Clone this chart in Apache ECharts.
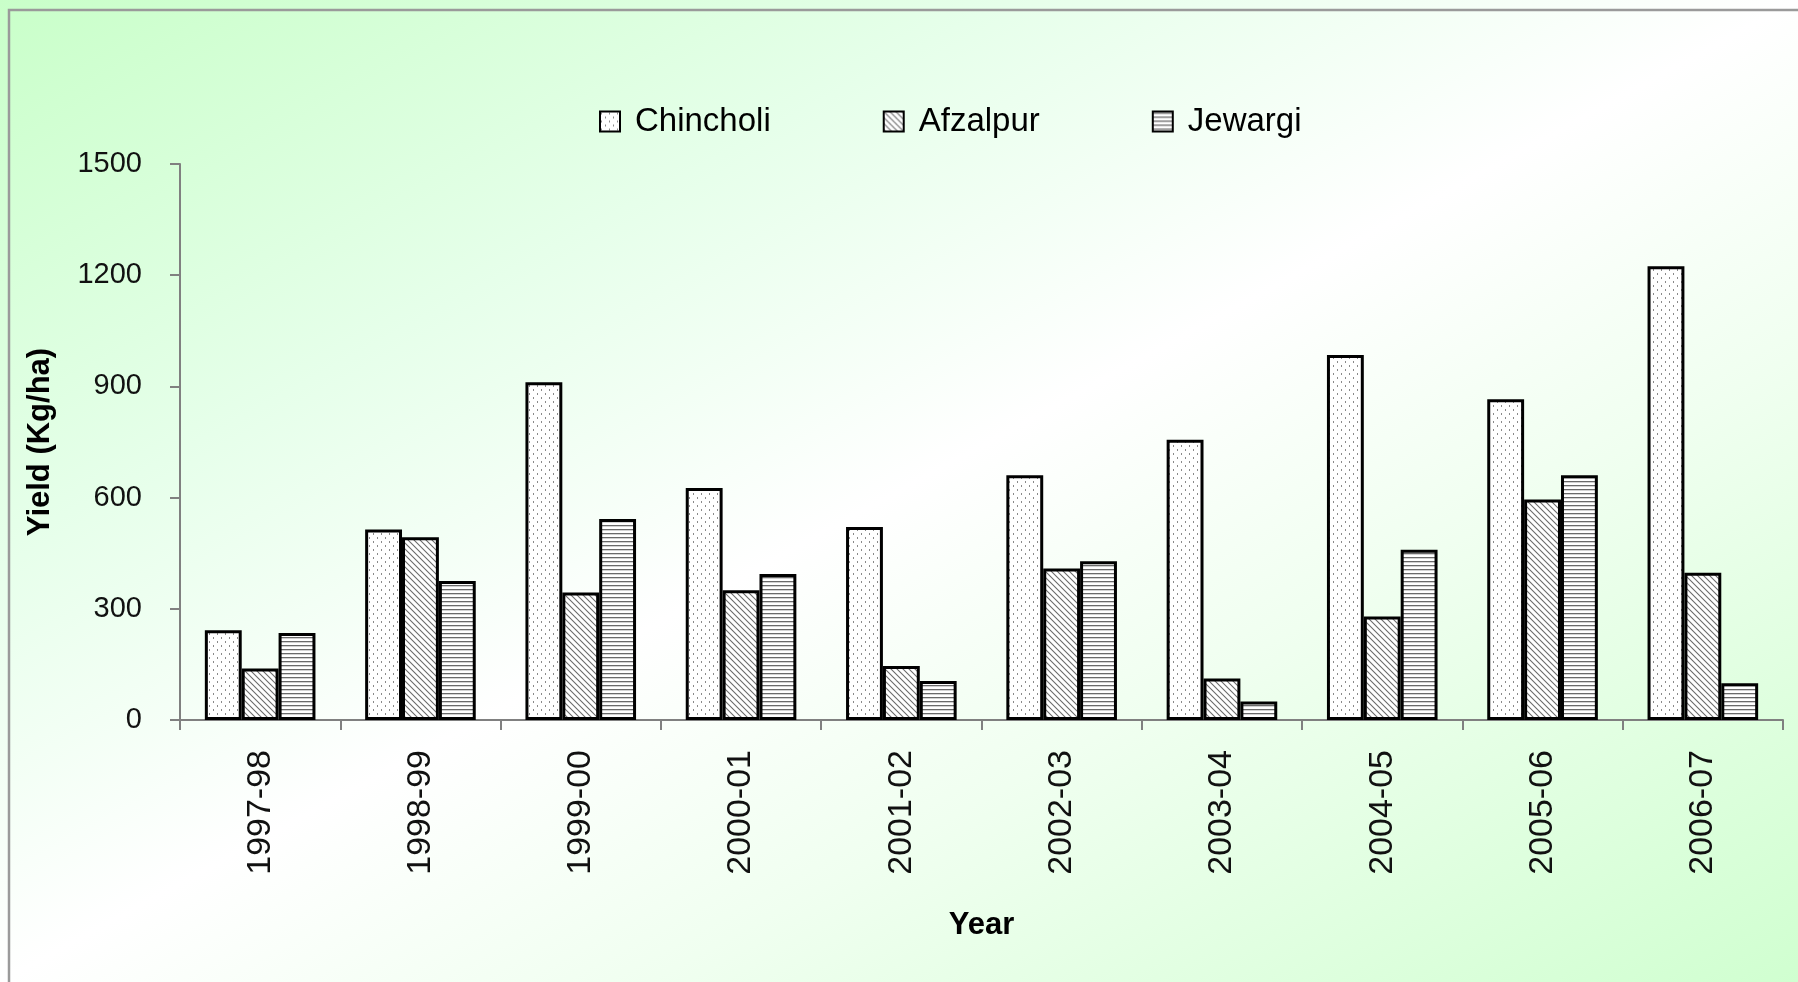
<!DOCTYPE html>
<html>
<head>
<meta charset="utf-8">
<script src="https://cdn.jsdelivr.net/npm/echarts@6/dist/echarts.min.js"></script>
<style>
html,body{margin:0;padding:0;width:1798px;height:982px;overflow:hidden;}
#chart{width:1798px;height:982px;background:linear-gradient(to bottom right,#c9ffc9 0%,#e6ffea 28%,#ffffff 50%,#f0fff0 68%,#d0ffd0 100%);}
</style>
</head>
<body>
<div id="chart"></div>
<script>
var categories = ['1997-98','1998-99','1999-00','2000-01','2001-02','2002-03','2003-04','2004-05','2005-06','2006-07'];
var seriesNames = ['Chincholi','Afzalpur','Jewargi'];
var chincholi = [242, 514, 911, 626, 521, 660, 756, 985, 865, 1224];
var afzalpur  = [139, 493, 344, 350, 146, 409, 112, 279, 595, 397];
var jewargi   = [235, 375, 542, 394, 105, 428, 50, 459, 660, 99];
var yTicks = [0, 300, 600, 900, 1200, 1500];

function makeTile(kind){
  var c = document.createElement('canvas');
  var ctx;
  if (kind === 'dots'){
    c.width = 8; c.height = 8; ctx = c.getContext('2d');
    ctx.fillStyle = '#ffffff'; ctx.fillRect(0,0,8,8);
    ctx.fillStyle = '#8a8a8a';
    ctx.fillRect(1,1,1,2); ctx.fillRect(5,5,1,2);
  } else if (kind === 'diag'){
    c.width = 6; c.height = 6; ctx = c.getContext('2d');
    ctx.fillStyle = '#ffffff'; ctx.fillRect(0,0,6,6);
    ctx.strokeStyle = '#6a6a6a'; ctx.lineWidth = 1.1;
    for (var o = -6; o <= 6; o += 6){
      ctx.beginPath(); ctx.moveTo(o-1, -1); ctx.lineTo(o+7, 7); ctx.stroke();
    }
  } else {
    c.width = 4; c.height = 4; ctx = c.getContext('2d');
    ctx.fillStyle = '#ffffff'; ctx.fillRect(0,0,4,4);
    ctx.fillStyle = '#6a6a6a'; ctx.fillRect(0,1,4,1.3);
  }
  return {image: c, repeat: 'repeat'};
}
var fills = [makeTile('dots'), makeTile('diag'), makeTile('horiz')];
var values = [chincholi, afzalpur, jewargi];

var chart = echarts.init(document.getElementById('chart'), null, {renderer:'canvas'});
var regular = '"Liberation Sans",Arial,sans-serif';

var option = {
  backgroundColor: 'transparent',
  animation: false,
  graphic: [{
    type: 'rect', silent: true, z: -1,
    shape: {x: 9, y: 10, width: 2000, height: 2000},
    style: {fill: 'none', stroke: '#9a9a9a', lineWidth: 2.5}
  }],
  legend: {
    data: seriesNames,
    left: 594, top: 100,
    itemWidth: 20, itemHeight: 20, itemGap: 112,
    icon: 'rect',
    itemStyle: {borderColor: '#000', borderWidth: 2},
    textStyle: {fontFamily: regular, fontSize: 33, color: '#000', padding: [0,0,0,10]}
  },
  grid: {left: 180, right: 15, top: 164, bottom: 262, containLabel: false},
  xAxis: {
    type: 'category',
    data: categories,
    name: 'Year', nameLocation: 'middle', nameGap: 190,
    nameTextStyle: {fontFamily: regular, fontWeight: 'bold', fontSize: 31, color: '#000'},
    axisLine: {show: true, lineStyle: {color: '#808080', width: 2}},
    axisTick: {show: true, length: 10, alignWithLabel: false, lineStyle: {color: '#808080', width: 2}},
    axisLabel: {rotate: 90, margin: 30, fontFamily: regular, fontSize: 34, color: '#111'},
    splitLine: {show: false}
  },
  yAxis: {
    type: 'value', min: 0, max: 1500, interval: 300,
    name: 'Yield (Kg/ha)', nameLocation: 'middle', nameGap: 124, nameRotate: 90,
    nameTextStyle: {fontFamily: regular, fontWeight: 'bold', fontSize: 31, color: '#000'},
    axisLine: {show: true, lineStyle: {color: '#808080', width: 2}},
    axisTick: {show: true, length: 10, lineStyle: {color: '#808080', width: 2}},
    axisLabel: {margin: 38, fontFamily: regular, fontSize: 29, color: '#111',
      formatter: function(v){ return yTicks.indexOf(v) >= 0 ? String(v) : ''; }},
    splitLine: {show: false}
  },
  series: seriesNames.map(function(n, i){
    return {
      name: n, type: 'bar', data: values[i],
      barGap: '0%', barCategoryGap: '31%',
      itemStyle: {color: fills[i], borderColor: '#000', borderWidth: 3}
    };
  })
};
chart.setOption(option);
</script>
</body>
</html>
